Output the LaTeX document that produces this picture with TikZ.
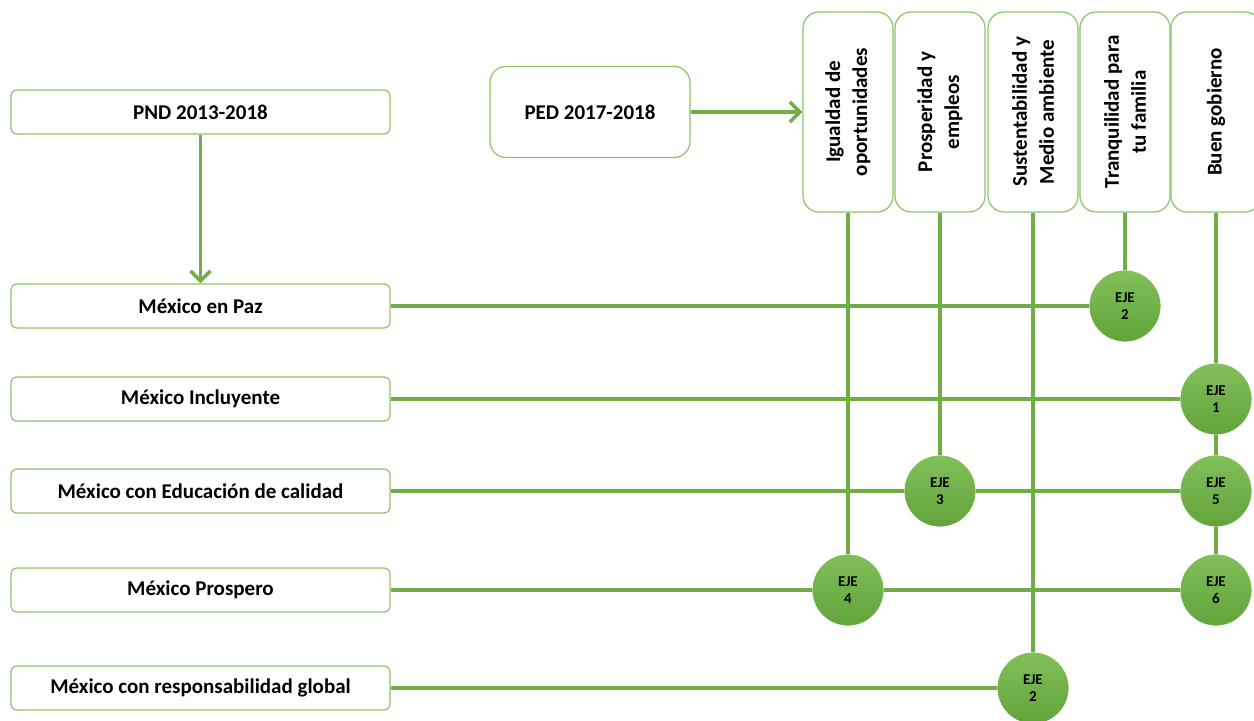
\documentclass[tikz,border=0pt]{standalone}
\usepackage{fontspec}
\setmainfont{Carlito}
\definecolor{LineColor}{RGB}{112,173,71}
\definecolor{BorderColor}{RGB}{140,196,102}
\definecolor{CircleTop}{RGB}{130,192,90}
\definecolor{CircleBottom}{RGB}{98,163,58}
\usetikzlibrary{positioning, arrows.meta, shapes.geometric}
\tikzstyle{arrow} = [line width=1.8pt, LineColor, -{Straight Barb[length=5pt, width=10pt, line width=1.8pt]}]
\tikzstyle{link} = [line width=1.8pt, LineColor]
\tikzstyle{plan} = [draw=BorderColor, line width=0.6pt, rounded corners=3pt, minimum width=189.5pt, minimum height=22pt, font=\fontsize{10.5}{13}\bfseries]
\tikzstyle{ped} = [draw=BorderColor, line width=0.6pt, rounded corners=8pt, minimum width=100pt, minimum height=45.5pt, font=\fontsize{10.5}{13}\bfseries]
\tikzstyle{axis} = [draw=BorderColor, line width=0.6pt, rounded corners=8pt, rotate=90, align=center, minimum width=100pt, minimum height=45pt, font=\fontsize{10.5}{13.5}\bfseries]
\tikzstyle{eje} = [circle, top color=CircleTop, bottom color=CircleBottom, draw=white, line width=0.4pt, minimum size=36pt, inner sep=0pt, align=center, font=\fontsize{7.5}{8.5}\bfseries]

\begin{document}
\begin{tikzpicture}[x=0.5pt, y=-0.5pt]
            \clip (0,0) rectangle (1254,721);

            % PND
            \node[plan] (pnd) at (200.5,112) {PND 2013-2018};
            \node[plan] (paz) at (200.5,306) {México en Paz};
            \node[plan] (incluyente) at (200.5,399) {México Incluyente};
            \node[plan] (educacion) at (200.5,491) {México con Educación de calidad};
            \node[plan] (prospero) at (200.5,590) {México Prospero};
            \node[plan] (global) at (200.5,688) {México con responsabilidad global};

            % PED
            \node[ped] (ped) at (590,112) {PED 2017-2018};
            \node[axis] (igualdad) at (848,112) {Igualdad de\\oportunidades};
            \node[axis] (prosperidad) at (940,112) {Prosperidad y\\empleos};
            \node[axis] (sustentabilidad) at (1033,112) {Sustentabilidad y\\Medio ambiente};
            \node[axis] (tranquilidad) at (1125,112) {Tranquilidad para\\tu familia};
            \node[axis] (gobierno) at (1216,112) {Buen gobierno};

            % Ejes
            \node[eje] (ejePaz) at (1125,306) {EJE\\2};
            \node[eje] (ejeUno) at (1216,399) {EJE\\1};
            \node[eje] (ejeTres) at (940,491) {EJE\\3};
            \node[eje] (ejeCinco) at (1216,491) {EJE\\5};
            \node[eje] (ejeCuatro) at (848,590) {EJE\\4};
            \node[eje] (ejeSeis) at (1216,590) {EJE\\6};
            \node[eje] (ejeGlobal) at (1033,688) {EJE\\2};

            % Connectors
            \draw[arrow] (pnd) -- (paz);
            \draw[arrow] (ped) -- (igualdad);
            \draw[link] (paz) -- (ejePaz);
            \draw[link] (tranquilidad) -- (ejePaz);
            \draw[link] (gobierno) -- (ejeUno);
            \draw[link] (ejeUno) -- (ejeCinco);
            \draw[link] (ejeCinco) -- (ejeSeis);
            \draw[link] (incluyente) -- (ejeUno);
            \draw[link] (educacion) -- (ejeTres);
            \draw[link] (ejeTres) -- (ejeCinco);
            \draw[link] (prosperidad) -- (ejeTres);
            \draw[link] (igualdad) -- (ejeCuatro);
            \draw[link] (prospero) -- (ejeCuatro);
            \draw[link] (ejeCuatro) -- (ejeSeis);
            \draw[link] (sustentabilidad) -- (ejeGlobal);
            \draw[link] (global) -- (ejeGlobal);
        \end{tikzpicture}
\end{document}
